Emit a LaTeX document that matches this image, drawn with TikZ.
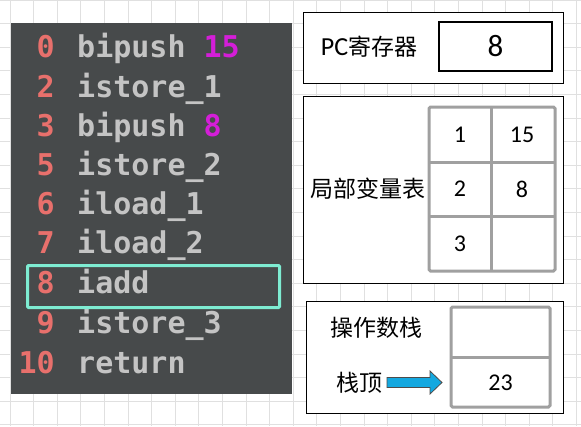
\documentclass[tikz,border=0pt]{standalone}
\usepackage{fontspec}
\setmainfont{Carlito}
\newfontfamily\codefont{DejaVu Sans Mono}
\newfontfamily\cjk{Noto Sans CJK SC}
\definecolor{panel}{HTML}{474A4B}
\definecolor{lnum}{HTML}{E8706C}
\definecolor{code}{HTML}{C4C4C4}
\definecolor{magen}{HTML}{D41ED8}
\definecolor{hl}{HTML}{7EECD2}
\definecolor{gridc}{HTML}{E0E0E0}
\definecolor{cellc}{HTML}{A0A0A0}
\definecolor{arrowc}{HTML}{14A8E0}
\tikzset{
  lnumstyle/.style={anchor=base east,inner sep=0pt,text=lnum,font=\codefont\bfseries\fontsize{30}{30}\selectfont},
  codestyle/.style={anchor=base west,inner sep=0pt,text=code,font=\codefont\bfseries\fontsize{30}{30}\selectfont},
  outerbox/.style={draw=black,line width=1pt,fill=white},
  cellstyle/.style={draw=cellc,line width=3pt,rounded corners=1.5pt},
  lbl/.style={inner sep=0pt,font=\fontsize{24}{24}\selectfont},
  cjklbl/.style={inner sep=0pt,font=\cjk\fontsize{23}{23}\selectfont},
}
\begin{document}
\begin{tikzpicture}[x=1pt,y=-1pt]
\useasboundingbox (0,0) rectangle (581,426);
\fill[white] (0,0) rectangle (581,426);
% background grid
\foreach \k in {0,...,24} {\draw[gridc,line width=0.8pt] ({10+\k*23.6},0) -- ({10+\k*23.6},426);}
\foreach \k in {0,...,18} {\draw[gridc,line width=0.8pt] (0,{\k*23.6}) -- (581,{\k*23.6});}
% code panel
\node[fill=panel,inner sep=0pt,minimum width=281pt,minimum height=371pt,anchor=north west] (panel) at (11,23) {};
\foreach \n/\t/\b in {0/{bipush \textcolor{magen}{15}}/57, 2/{istore\_1}/97, 3/{bipush \textcolor{magen}{8}}/136, 5/{istore\_2}/175, 6/{iload\_1}/214, 7/{iload\_2}/253, 8/{iadd}/293, 9/{istore\_3}/333, 10/{return}/373} {
  \node[lnumstyle] (n\n) at (55,\b) {\n};
  \node[codestyle] (i\n) at (77,\b) {\t};
}
\node[draw=hl,line width=3pt,rounded corners=1pt,inner sep=0pt,minimum width=252pt,minimum height=42pt,anchor=north west] (hlbox) at (26,264) {};
% PC register
\node[outerbox,minimum width=260pt,minimum height=71pt,anchor=north west,inner sep=0pt] (pcbox) at (303,12) {};
\node[inner sep=0pt,font=\fontsize{26}{26}\selectfont] (pclbl) at (369,47) {PC{\cjk\fontsize{23}{23}\selectfont 寄存器}};
\node[draw=black,line width=2pt,minimum width=113pt,minimum height=49pt,inner sep=0pt] (pcval) at (495.5,46.5) {};
\node[inner sep=0pt,font=\fontsize{31}{31}\selectfont] (pcnum) at (pcval) {8};
% local variable table
\node[outerbox,minimum width=260pt,minimum height=187pt,anchor=north west,inner sep=0pt] (lvbox) at (303,96) {};
\node[cjklbl] (lvlbl) at (367.5,189) {局部变量表};
\draw[cellstyle] (429,107) rectangle (555,271);
\draw[cellstyle] (491,107) -- (491,271);
\draw[cellstyle] (429,162) -- (555,162);
\draw[cellstyle] (429,216) -- (555,216);
\node[lbl] (c11) at (460,135) {1};
\node[lbl] (c12) at (522,135) {15};
\node[lbl] (c21) at (460,189) {2};
\node[lbl] (c22) at (522,189) {8};
\node[lbl] (c31) at (460,244) {3};
% operand stack
\node[outerbox,minimum width=257pt,minimum height=112pt,anchor=north west,inner sep=0pt] (osbox) at (306,301) {};
\node[cjklbl] (oslbl) at (376,328) {操作数栈};
\node[cjklbl] (toplbl) at (359,383) {栈顶};
\draw[cellstyle] (451,307) rectangle (550,407);
\draw[cellstyle] (451,357) -- (550,357);
\node[lbl] (topval) at (500.5,383) {23};
\coordinate (arrtip) at (442,382.5);
\draw[fill=arrowc,draw=black!70,line width=0.8pt]
  (387,377.5) -- (430,377.5) -- (430,371) -- (arrtip) -- (430,394) -- (430,387.5) -- (387,387.5) -- cycle;
\end{tikzpicture}
\end{document}
